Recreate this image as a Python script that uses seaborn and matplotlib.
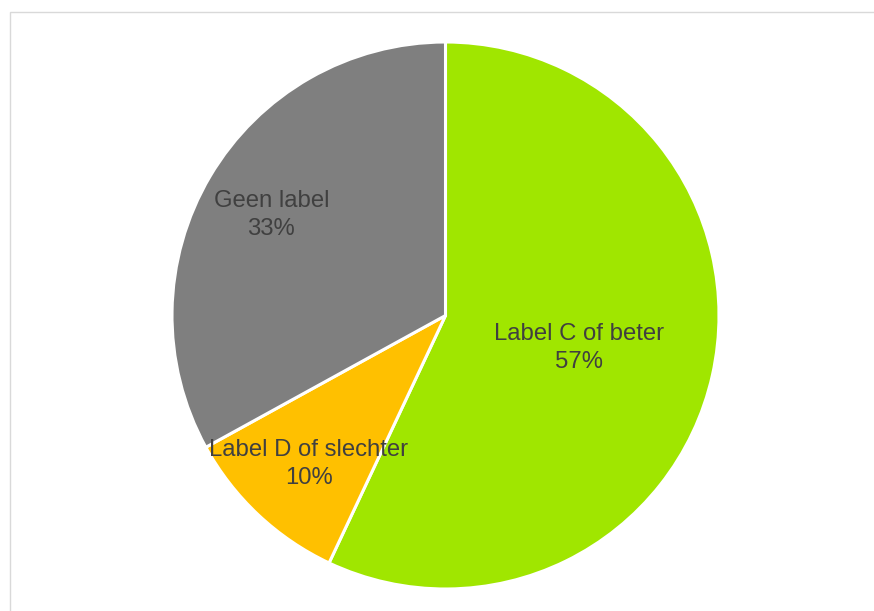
import numpy as np
import matplotlib
matplotlib.use("Agg")
import matplotlib.pyplot as plt
import seaborn as sns
from matplotlib.patches import Rectangle

categories = ["Label C of beter", "Label D of slechter", "Geen label"]
values = [57, 10, 33]
pct_labels = ["57%", "10%", "33%"]
colors = ["#A0E600", "#FFC000", "#7F7F7F"]
label_radii = [0.50, 0.73, 0.74]

sns.set_theme(style="white")
plt.rcParams['font.family'] = ['Liberation Sans', 'DejaVu Sans']

fig = plt.figure(figsize=(8.74, 6.11), dpi=100)
W, H = 874, 611
cx, cy, r = 445.5, 315.5, 273.5
ax = fig.add_axes([(cx - r) / W, (H - cy - r) / H, 2 * r / W, 2 * r / H])

palette = sns.color_palette(colors)
wedges, _ = ax.pie(values, colors=palette, startangle=90, counterclock=False,
                   wedgeprops=dict(edgecolor="white", linewidth=2.2),
                   radius=1.0, frame=False)
ax.set_xlim(-1, 1)
ax.set_ylim(-1, 1)
ax.set_aspect("equal")
ax.axis("off")

for w, cat, pl, rr in zip(wedges, categories, pct_labels, label_radii):
    ang = np.deg2rad((w.theta1 + w.theta2) / 2)
    ax.annotate(f"{cat}\n{pl}", xy=(rr * np.cos(ang), rr * np.sin(ang)),
                xytext=(0, -2), textcoords="offset points",
                ha="center", va="center", fontsize=17.2, color="#404040",
                linespacing=1.38)

fig.patches.append(Rectangle((9.5 / W, -0.1), 1.2, (H - 11.5) / H + 0.1,
                             transform=fig.transFigure, fill=False,
                             edgecolor="#D9D9D9", linewidth=1.0))

fig.savefig("out.png", dpi=100)
